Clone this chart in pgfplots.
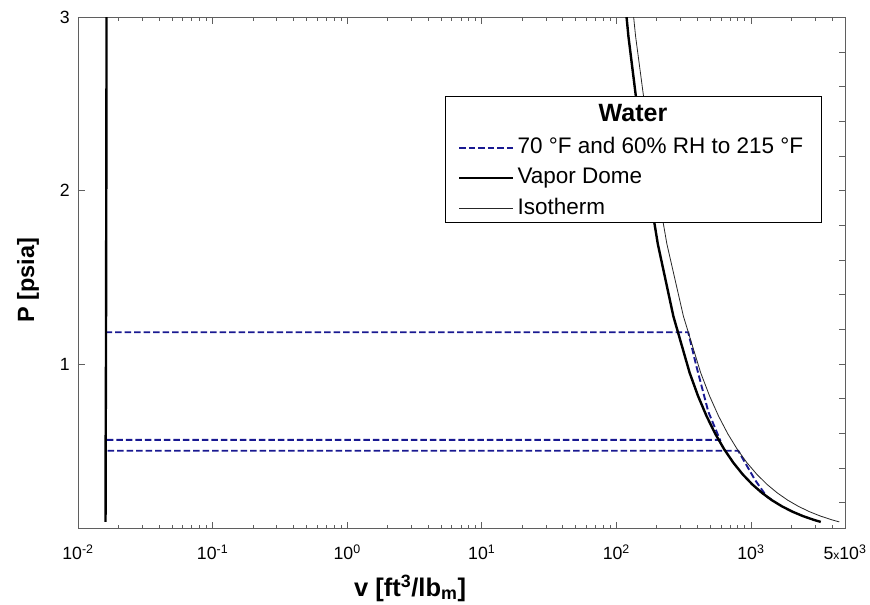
\documentclass[border=0pt]{standalone}
\usepackage{fontspec}
\setmainfont{Liberation Sans}
\usepackage{pgfplots}
\pgfplotsset{compat=1.18}
\definecolor{procblue}{RGB}{25,25,145}
\definecolor{axisgray}{RGB}{95,95,95}

% saturated liquid line (v_f) and saturated vapour line (v_g), water
\pgfplotstableread{
v P
0.01602 0.08865
0.01603 0.25638
0.01605 0.50745
0.01613 0.94924
0.01620 1.6927
0.01625 2.2230
0.01629 2.8892
0.01634 3.7184
}\liqline
\pgfplotstableread{
v P
3302.4 0.08865
2945.5 0.09998
2443.0 0.12173
2035.8 0.14756
1703.2 0.17812
1430.4 0.21413
1206.7 0.25638
1021.4 0.30578
867.9 0.36334
740.3 0.43016
633.3 0.50745
543.6 0.59659
468.1 0.69904
404.3 0.81572
350.4 0.94924
265.4 1.2748
203.26 1.6927
157.33 2.2230
123.00 2.8892
97.07 3.7184
}\vapline
% ideal-gas isotherm at 215 F
\pgfplotstableread{
v P
4532 0.08865
4019 0.09998
3301 0.12173
2723 0.14756
2256 0.17812
1876 0.21413
1567 0.25638
1314 0.30578
1106 0.36334
934 0.43016
792 0.50745
673.5 0.59659
574.8 0.69904
492.6 0.81572
423.3 0.94924
315.2 1.2748
237.4 1.6927
180.7 2.2230
139.1 2.8892
108.1 3.7184
}\isotherm
% process path
\pgfplotstableread{
v P
1426 0.216
1310 0.235
1072 0.331
805 0.499
0.0164 0.499
nan nan
0.0164 0.562
589 0.562
482 0.725
394 0.985
342 1.183
0.0164 1.183
}\process

\begin{document}
\begin{tikzpicture}
% right-hand ticks every 0.2 psia
\begin{axis}[
  at={(78bp,76.4bp)}, anchor=south west,
  scale only axis, width=767bp, height=511.2bp,
  xmode=log, xmin=0.01, xmax=5000, ymin=0.05, ymax=3,
  tick align=inside,
  hide x axis, axis y line*=right,
  y axis line style={draw=axisgray, line width=0.8bp},
  ytick={0.2,0.4,0.6,0.8,1.0,1.2,1.4,1.6,1.8,2.0,2.2,2.4,2.6,2.8},
  yticklabels={},
  major tick length=6bp,
  tick style={draw=axisgray, line width=0.8bp},
]
\addplot[draw=none] coordinates {(1,1)};
\end{axis}

\begin{axis}[
  at={(78bp,76.4bp)}, anchor=south west,
  scale only axis, width=767bp, height=511.2bp,
  xmode=log, xmin=0.01, xmax=5000, ymin=0.05, ymax=3,
  tick align=inside,
  axis line style={draw=axisgray, line width=0.8bp},
  tick style={draw=axisgray, line width=0.8bp},
  major tick length=7bp, minor tick length=4bp,
  xtick={0.01,0.1,1,10,100,1000,5000},
  xticklabels={10\textsuperscript{-2},10\textsuperscript{-1},10\textsuperscript{0},10\textsuperscript{1},10\textsuperscript{2},10\textsuperscript{3},5{\fontsize{12bp}{12bp}\selectfont x}10\textsuperscript{3}},
  minor xtick={0.02,0.03,0.04,0.05,0.06,0.07,0.08,0.09,0.2,0.3,0.4,0.5,0.6,0.7,0.8,0.9,2,3,4,5,6,7,8,9,20,30,40,50,60,70,80,90,200,300,400,500,600,700,800,900,2000,3000,4000},
  ytick={1,2,3}, yticklabels={1,2,3}, ytick pos=left,
  xticklabel style={font=\fontsize{17.7bp}{20bp}\selectfont, inner sep=0pt, anchor=north, yshift=-16bp},
  yticklabel style={font=\fontsize{17.7bp}{20bp}\selectfont, inner sep=0pt, anchor=east, xshift=-8bp},
  xlabel={v [ft\textsuperscript{3}/lb\textsubscript{m}]},
  ylabel={P [psia]},
  xlabel style={font=\bfseries\fontsize{25.5bp}{28bp}\selectfont, at={(axis description cs:0.433,-0.132)}, anchor=base, inner sep=0pt},
  ylabel style={font=\bfseries\fontsize{23.5bp}{26bp}\selectfont, at={(axis description cs:-0.065,0.486)}, anchor=center, inner sep=0pt},
  unbounded coords=jump,
  legend style={draw=none, fill=none, inner sep=0pt,
    at={(rel axis cs:0.4954,0.766)}, anchor=north west,
    font=\fontsize{22.5bp}{25bp}\selectfont,
    row sep=9.5bp, column sep=3bp,
    nodes={inner sep=0pt, text height=16bp, text depth=5bp}},
  legend cell align=left,
  legend image code/.code={\draw[#1] (0bp,0bp) -- (54bp,0bp);},
]
\addplot[procblue, line width=1.9bp, dash pattern=on 6.5bp off 3bp] table {\process};
\addlegendentry{70 °F and 60\% RH to 215 °F}
\addplot[black, line width=2.4bp, forget plot] table {\liqline};
\addplot[black, line width=2.4bp] table {\vapline};
\addlegendentry{Vapor Dome}
\addplot[black!85, line width=0.8bp] table {\isotherm};
\addlegendentry{Isotherm}
% legend frame and title
\draw[fill=white, draw=black, line width=0.9bp] (rel axis cs:0.4785,0.598) rectangle (rel axis cs:0.9687,0.846);
\node[font=\bfseries\fontsize{25bp}{28bp}\selectfont] at (rel axis cs:0.7236,0.813) {Water};
\end{axis}
\pgfresetboundingbox
\path[use as bounding box] (0,0) rectangle (870bp,605bp);
\end{tikzpicture}
\end{document}
